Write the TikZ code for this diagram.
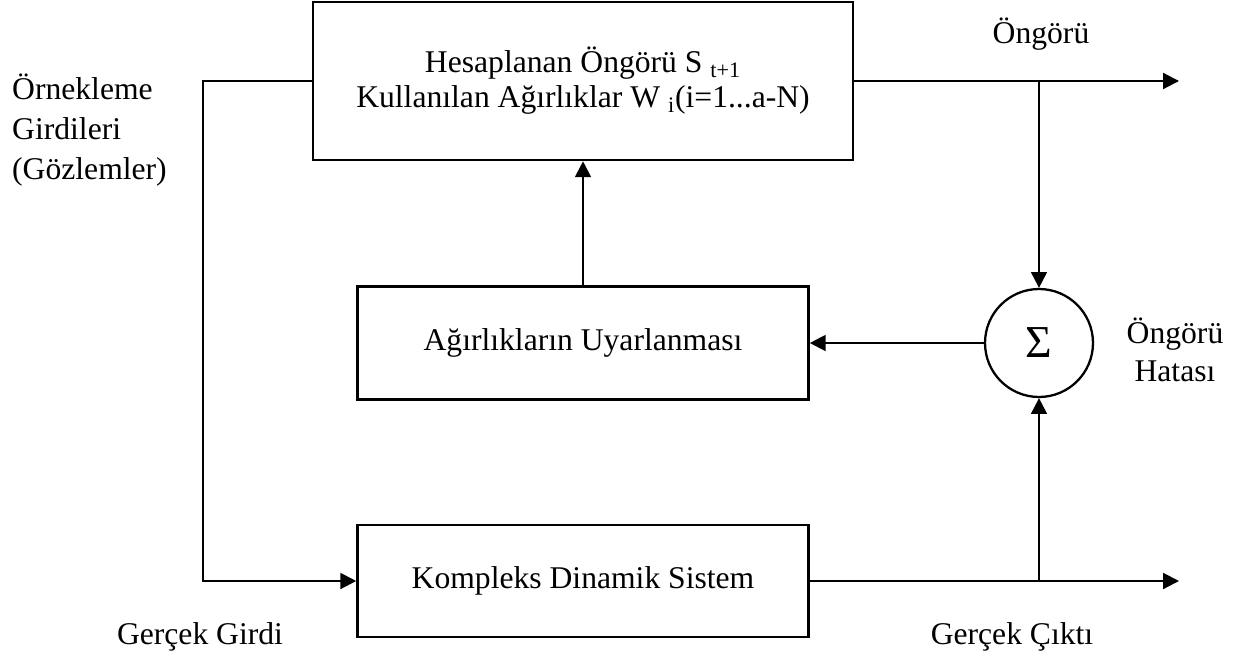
\documentclass[tikz,border=0pt]{standalone}
\usepackage{fontspec}
\setmainfont{Liberation Serif}
\usepackage{tikz}
\usetikzlibrary{arrows.meta,calc}

\begin{document}
\begin{tikzpicture}[x=0.02cm,y=-0.02cm,
  every node/.style={font=\fontsize{18}{22}\selectfont},
  blok/.style={draw,line width=1.5pt,align=center,inner sep=0pt},
  toplam/.style={draw,circle,line width=1.3pt,minimum size=2.16cm,inner sep=0pt},
  hat/.style={line width=1.2pt},
  ok/.style={hat,-{Triangle[length=9pt,width=9pt]}}]
  \useasboundingbox (0,0) rectangle (1240,659);
  % bloklar
  \node[blok,minimum width=10.8cm,minimum height=3.16cm,
        font=\fontsize{18}{20}\selectfont] (tahmin) at (583,81)
    {Hesaplanan Öngörü S \textsubscript{t+1}\\Kullanılan Ağırlıklar W \textsubscript{i}(i=1...a-N)};
  \node[blok,minimum width=9.02cm,minimum height=2.26cm] (uyarla) at (583,343)
    {Ağırlıkların Uyarlanması};
  \node[blok,minimum width=9.02cm,minimum height=2.24cm] (sistem) at (583,581)
    {Kompleks Dinamik Sistem};
  \node[toplam,font=\fontsize{26}{26}\selectfont] (sigma) at (1039,343) {Σ};
  % etiketler
  \node[anchor=west,align=left,font=\fontsize{18}{23}\selectfont] (girdiler) at (6,130)
    {Örnekleme\\Girdileri\\(Gözlemler)};
  \node (ongoru) at (1041,34) {Öngörü};
  \node[align=center] (hata) at (1175,350) {Öngörü\\Hatası};
  \node (gercekgirdi) at (200,637) {Gerçek Girdi};
  \node (gercekcikti) at (1012,637) {Gerçek Çıktı};
  % baglantilar
  \coordinate (kose) at (203,81);
  \coordinate (cikis1) at (1179,81);
  \coordinate (cikis2) at (1179,581);
  \draw[ok] (tahmin.west) -- (kose) |- (sistem.west);
  \draw[ok] (tahmin.east) -- (cikis1);
  \draw[ok] (tahmin.east -| sigma) -- (sigma.north);
  \draw[ok] (sigma.west) -- (uyarla.east);
  \draw[ok] (uyarla.north) -- (tahmin.south);
  \draw[ok] (sistem.east) -- (cikis2);
  \draw[ok] (sistem.east -| sigma) -- (sigma.south);
\end{tikzpicture}
\end{document}
